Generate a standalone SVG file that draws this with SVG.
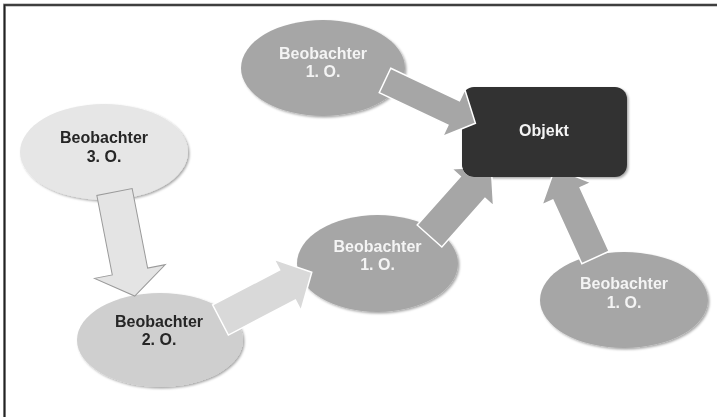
<svg xmlns="http://www.w3.org/2000/svg" width="717" height="417" viewBox="0 0 717 417">
<style>
.t{font-family:"Liberation Sans","Open Sans",sans-serif;font-weight:700;font-size:16px;text-anchor:middle}
.lt{fill:#f4f4f4}
.dk{fill:#262626}
.e1{fill:#a6a6a6}
.e2{fill:#cfcfcf}
.e3{fill:#e6e6e6}
.arr{fill:#a6a6a6;stroke:#ffffff;stroke-width:1.5;stroke-linejoin:miter}
</style>
<defs>
<filter id="sh" x="-10%" y="-10%" width="125%" height="130%">
<feDropShadow dx="1.5" dy="1.5" stdDeviation="1.2" flood-color="#000" flood-opacity="0.35"/>
</filter>
<clipPath id="nobox">
<path clip-rule="evenodd" d="M0 0H717V417H0Z M474 87H615A12 12 0 0 1 627 99V165A12 12 0 0 1 615 177H474A12 12 0 0 1 462 165V99A12 12 0 0 1 474 87Z"/>
</clipPath>
</defs>
<rect width="717" height="417" fill="#ffffff"/>
<g id="frame">
<path d="M4.5 417V5H717" fill="none" stroke="#9a9a9a" stroke-width="3"/>
<path d="M4.5 417V5H717" fill="none" stroke="#222" stroke-width="1.6"/>
</g>
<g id="node-b1-top" filter="url(#sh)">
<ellipse class="e1" cx="323" cy="68" rx="82" ry="48"/>
<text class="t lt" x="323" y="58.5">Beobachter</text>
<text class="t lt" x="323" y="77">1. O.</text>
</g>
<g id="node-b3" filter="url(#sh)">
<ellipse class="e3" cx="104" cy="152" rx="84" ry="48"/>
<text class="t dk" x="104" y="143">Beobachter</text>
<text class="t dk" x="104" y="161.5">3. O.</text>
</g>
<g id="node-b2" filter="url(#sh)">
<ellipse class="e2" cx="160" cy="340" rx="83" ry="47"/>
<text class="t dk" x="159" y="326.5">Beobachter</text>
<text class="t dk" x="159" y="345">2. O.</text>
</g>
<g id="node-b1-mid" filter="url(#sh)">
<ellipse class="e1" cx="377.5" cy="263.5" rx="80.5" ry="48.5"/>
<text class="t lt" x="377.5" y="251.5">Beobachter</text>
<text class="t lt" x="377.5" y="270">1. O.</text>
</g>
<g id="node-b1-right" filter="url(#sh)">
<ellipse class="e1" cx="624" cy="300" rx="84" ry="48"/>
<text class="t lt" x="624" y="289">Beobachter</text>
<text class="t lt" x="624" y="307.5">1. O.</text>
</g>
<g id="node-objekt" filter="url(#sh)">
<rect x="462" y="87" width="165" height="90" rx="12" ry="12" fill="#333333"/>
<text class="t lt" x="544" y="136">Objekt</text>
</g>
<g id="connectors">
<polygon transform="translate(114.5,192) rotate(79)" points="0,-18 81,-18 81,-36 106,0 81,36 81,18 0,18" fill="#e4e4e4" stroke="#9a9a9a" stroke-width="1"/>
<polygon class="arr" transform="translate(220.5,320) rotate(-27.6)" points="0,-17 75.6,-17 75.6,-29 103,0 75.6,29 75.6,17 0,17" style="fill:#d9d9d9"/>
<polygon class="arr" transform="translate(385,80.5) rotate(25.3)" points="0,-13.5 76,-13.5 76,-26 100,0 76,26 76,13.5 0,13.5"/>
<g clip-path="url(#nobox)">
<polygon class="arr" transform="translate(429.5,236) rotate(-48.4)" points="0,-16.5 65,-16.5 65,-28 93,0 65,28 65,16.5 0,16.5"/>
<polygon class="arr" transform="translate(595.5,257.5) rotate(-114.5)" points="0,-15 70,-15 70,-27 98,0 70,27 70,15 0,15"/>
</g>
</g>
</svg>
